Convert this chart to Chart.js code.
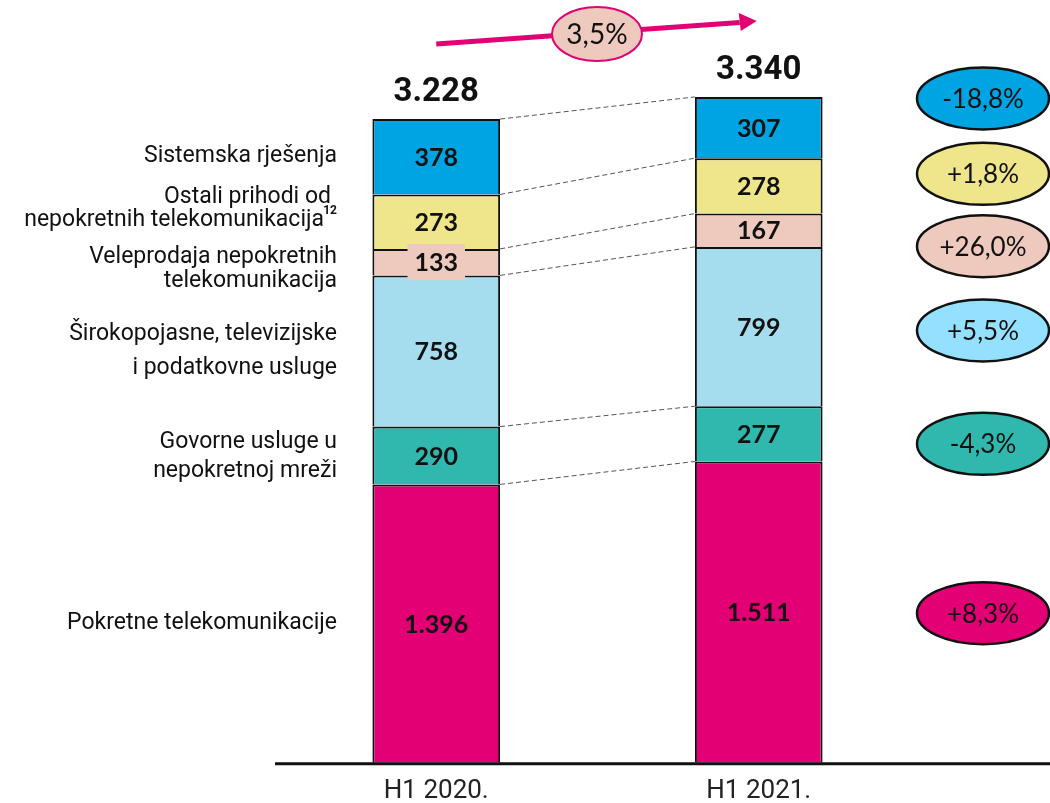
<!DOCTYPE html>
<html>
<head>
<meta charset="utf-8">
<script src="https://cdn.jsdelivr.net/npm/chart.js@4/dist/chart.umd.min.js"></script>
<style>
  html, body { margin: 0; padding: 0; background: #fff; }
  #wrap { width: 1050px; height: 803px; position: relative; }
</style>
</head>
<body>
<div id="wrap"><canvas id="prihodi"></canvas></div>
<script>
// kategorije i vrijednosti (mil. kn)
var periods = ['H1 2020.', 'H1 2021.'];
var pokretne = [1396, 1511];
var govorne = [290, 277];
var sirokopojasne = [758, 799];
var veleprodaja = [133, 167];
var ostali = [273, 278];
var sistemska = [378, 307];
var totals = [3228, 3340];
var changes = ['+8,3%', '-4,3%', '+5,5%', '+26,0%', '+1,8%', '-18,8%'];
var totalGrowth = '3,5%';
var segmentLabels = [
  ['Pokretne telekomunikacije'],
  ['Govorne usluge u', 'nepokretnoj mreži'],
  ['Širokopojasne, televizijske', 'i podatkovne usluge'],
  ['Veleprodaja nepokretnih', 'telekomunikacija'],
  ['Ostali prihodi od', 'nepokretnih telekomunikacija'],
  ['Sistemska rješenja']
];

var barColors = ['#e20074', '#31b8ae', '#a6ddee', '#edcabd', '#efe58b', '#00a4e2'];
var pillColors = ['#e20074', '#31b8ae', '#93e0ff', '#edcabd', '#efe58b', '#00a4e2'];

function fmt(n) {
  return String(n).replace(/\B(?=(\d{3})+(?!\d))/g, '.');
}

var seriesList = [pokretne, govorne, sirokopojasne, veleprodaja, ostali, sistemska];
var datasets = seriesList.map(function (vals, i) {
  return {
    label: segmentLabels[i].join(' '),
    data: vals,
    backgroundColor: barColors[i],
    borderColor: '#111',
    borderWidth: { top: 2, left: 2, right: 2, bottom: 0 },
    borderSkipped: false,
    categoryPercentage: 1,
    barPercentage: 0.396
  };
});

function ellipse(ctx, x, y, rx, ry, fill, stroke, lw) {
  ctx.beginPath();
  ctx.ellipse(x, y, rx, ry, 0, 0, Math.PI * 2);
  ctx.fillStyle = fill;
  ctx.fill();
  ctx.lineWidth = lw;
  ctx.strokeStyle = stroke;
  ctx.stroke();
}

var decor = {
  id: 'decor',
  afterDatasetsDraw: function (chart) {
    var ctx = chart.ctx;
    var area = chart.chartArea;
    ctx.save();

    // osnovna linija
    ctx.strokeStyle = '#111';
    ctx.lineWidth = 3;
    ctx.beginPath();
    ctx.moveTo(area.left, area.bottom + 1);
    ctx.lineTo(chart.width, area.bottom + 1);
    ctx.stroke();

    // isprekidane spojnice
    ctx.setLineDash([5, 3]);
    ctx.lineWidth = 1;
    ctx.strokeStyle = '#555';
    chart.data.datasets.forEach(function (ds, i) {
      var m = chart.getDatasetMeta(i);
      var a = m.data[0], b = m.data[1];
      ctx.beginPath();
      ctx.moveTo(a.x + a.width / 2, a.y);
      ctx.lineTo(b.x - b.width / 2, b.y);
      ctx.stroke();
    });
    ctx.setLineDash([]);

    // vrijednosti u segmentima
    ctx.textAlign = 'center';
    ctx.textBaseline = 'middle';
    ctx.font = 'bold 25px Lato';
    chart.data.datasets.forEach(function (ds, i) {
      var m = chart.getDatasetMeta(i);
      m.data.forEach(function (bar, j) {
        var cy = (bar.y + bar.base) / 2;
        var txt = fmt(ds.data[j]);
        if (bar.base - bar.y < 30) {
          var w = ctx.measureText(txt).width + 14;
          ctx.fillStyle = ds.backgroundColor;
          ctx.fillRect(bar.x - w / 2, cy - 18, w, 36);
        }
        ctx.fillStyle = '#111';
        ctx.fillText(txt, bar.x, cy + 1);
      });
    });

    // ukupno iznad stupaca
    var topMeta = chart.getDatasetMeta(chart.data.datasets.length - 1);
    ctx.font = 'bold 33px Roboto';
    ctx.fillStyle = '#111';
    topMeta.data.forEach(function (bar, j) {
      ctx.fillText(fmt(totals[j]), bar.x, bar.y - 26);
    });

    // opisi lijevo
    var labelShift = [0, 1, 0, 7.5, -12.5, 0];
    var lineGap = [0, 29, 34, 24, 23, 0];
    ctx.textAlign = 'right';
    ctx.font = '23px Roboto';
    chart.data.datasets.forEach(function (ds, i) {
      var bar = chart.getDatasetMeta(i).data[0];
      var lines = segmentLabels[i];
      var cy = (bar.y + bar.base) / 2 + labelShift[i];
      lines.forEach(function (ln, k) {
        var y = cy + (k - (lines.length - 1) / 2) * lineGap[i];
        if (i === 4 && k === 1) {
          ctx.font = 'bold 12px Roboto';
          ctx.fillText('12', 337, y - 10);
          ctx.font = '23px Roboto';
          ctx.fillText(ln, 324, y);
        } else {
          ctx.fillText(ln, i === 4 && k === 0 ? 331 : 337, y);
        }
      });
    });

    // promjene desno
    var pillShift = [1, 10, 4, 16, -12, -29];
    ctx.textAlign = 'center';
    ctx.font = '26px Lato';
    chart.data.datasets.forEach(function (ds, i) {
      var bar = chart.getDatasetMeta(i).data[1];
      var cy = (bar.y + bar.base) / 2 + pillShift[i];
      ellipse(ctx, 983, cy, 66, 31, pillColors[i], '#111', 2.5);
      ctx.fillStyle = '#111';
      ctx.fillText(changes[i], 983, cy + 1);
    });

    // strelica rasta
    var x0 = topMeta.data[0].x, x1 = topMeta.data[1].x;
    ctx.strokeStyle = '#e20074';
    ctx.fillStyle = '#e20074';
    ctx.lineWidth = 5;
    ctx.beginPath();
    ctx.moveTo(x0, 44);
    ctx.lineTo(x1 - 19, 22.5);
    ctx.stroke();
    ctx.beginPath();
    ctx.moveTo(x1 - 2, 21);
    ctx.lineTo(x1 - 20, 13);
    ctx.lineTo(x1 - 18, 31);
    ctx.closePath();
    ctx.fill();
    var mx = (x0 + x1) / 2 - 0.5;
    ellipse(ctx, mx, 34, 45, 27, '#edcabd', '#e20074', 2);
    ctx.fillStyle = '#111';
    ctx.font = '28px Lato';
    ctx.fillText(totalGrowth, mx, 35);

    ctx.restore();
  }
};

new Chart(document.getElementById('prihodi'), {
  type: 'bar',
  data: { labels: periods, datasets: datasets },
  options: {
    responsive: true,
    maintainAspectRatio: false,
    animation: false,
    layout: { padding: { left: 275, right: 130, top: 0, bottom: -17 } },
    plugins: { legend: { display: false }, tooltip: { enabled: false } },
    scales: {
      x: {
        stacked: true,
        grid: { display: false, drawTicks: false },
        border: { display: false },
        ticks: { color: '#222', font: { family: 'Roboto', size: 26 }, padding: 13 }
      },
      y: {
        stacked: true,
        display: false,
        min: 0,
        max: 3825
      }
    }
  },
  plugins: [decor]
});
</script>
</body>
</html>
